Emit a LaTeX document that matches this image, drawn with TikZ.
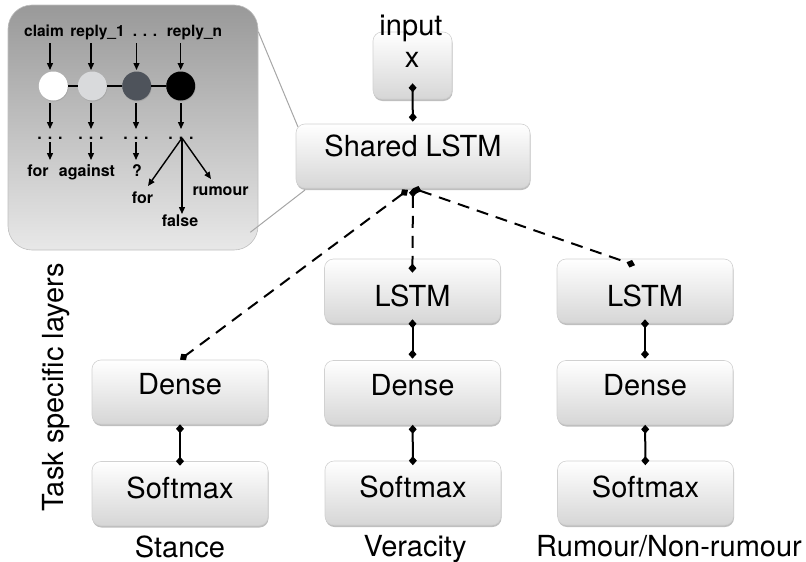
\documentclass[tikz,border=0pt]{standalone}
\usepackage{fontspec}
\setmainfont{TeX Gyre Heros}
\usetikzlibrary{arrows.meta,shadows,calc}
\definecolor{ballgray}{HTML}{D9DADC}
\definecolor{balldark}{HTML}{4E535B}
\tikzset{
  layer/.style={rounded corners=9pt, top color=white, bottom color=black!16, draw=black!18, line width=0.6pt,
     drop shadow={shadow xshift=0.5pt, shadow yshift=-2pt, opacity=0.25, fill=black},
     minimum width=176pt, minimum height=64pt, inner sep=0pt, font=\fontsize{29}{34}\selectfont},
  capup/.style={text height=21pt, text depth=#1},
  capdown/.style={text height=#1, text depth=0pt},
  lbl/.style={font=\fontsize{29}{34}\selectfont, inner sep=0pt, anchor=base},
  link/.style={line width=2pt, {Diamond[length=9pt,width=8pt]}-{Diamond[length=9pt,width=8pt]}},
  dlink/.style={link, dash pattern=on 12pt off 8pt},
  smalltext/.style={font=\fontsize{16}{20}\selectfont\bfseries, inner sep=0pt, anchor=base},
  toptext/.style={font=\fontsize{15.5}{20}\selectfont\bfseries, inner sep=0pt, anchor=base},
  sarrow/.style={line width=1.4pt, -{Triangle[length=7pt,width=6pt]}},
  ball/.style={circle, minimum size=29pt, inner sep=0pt, drop shadow={shadow xshift=0.5pt, shadow yshift=-1pt, opacity=0.3}},
  inset/.style={rounded corners=24pt, top color=black!40, bottom color=black!9, draw=black!25, line width=0.6pt},
  zoomline/.style={draw=black!35, line width=1pt},
}
\begin{document}
\begin{tikzpicture}[x=1pt,y=-1pt]
\useasboundingbox (0,0) rectangle (806,562);

% ---------- inset ----------
\node[inset, minimum width=250pt, minimum height=245pt] (ins) at (133,127.5) {};

\node[toptext] (tclaim) at (44,36) {claim};
\node[toptext] (treply1) at (97.5,36) {reply\_1};
\node[toptext] (tdots) at (145,36) {. . .};
\node[toptext] (treplyn) at (194.5,36) {reply\_n};

\foreach \i/\x in {1/50,2/91,3/136.5,4/180.7}{
  \coordinate (ta\i) at (\x,43);
  \coordinate (tb\i) at (\x,70);
  \draw[sarrow] (ta\i) -- (tb\i);
}

\node[ball, fill=white] (c1) at (53.3,86) {};
\node[ball, fill=ballgray] (c2) at (92.3,86) {};
\node[ball, fill=balldark] (c3) at (136.7,86) {};
\node[ball, fill=black] (c4) at (180.7,86) {};
\draw[line width=1.3pt] (c1) -- (c2);
\draw[line width=1.3pt] (c2) -- (c3);
\draw[line width=1.3pt] (c3) -- (c4);

\foreach \i/\x in {1/50,2/91,3/136,4/181}{
  \coordinate (ba\i) at (\x,103);
  \coordinate (bb\i) at (\x,129);
  \draw[sarrow] (ba\i) -- (bb\i);
  \node[smalltext] (dots\i) at (\x,139) {. . .};
}
\foreach \i/\x in {1/50,2/91,3/136}{
  \coordinate (sa\i) at (\x,142);
  \coordinate (sb\i) at (\x,160);
  \draw[sarrow] (sa\i) -- (sb\i);
}
\node[smalltext] (lfor) at (38,176) {for};
\node[smalltext] (lagainst) at (87,176) {against};
\node[smalltext] (lq) at (137,176) {?};

\coordinate (f0) at (182,138);
\coordinate (f1) at (148,186);
\coordinate (f2) at (182,214);
\coordinate (f3) at (211,179);
\draw[sarrow] (f0) -- (f1);
\draw[sarrow] (f0) -- (f2);
\draw[sarrow] (f0) -- (f3);
\node[smalltext] (lfor2) at (142.5,203) {for};
\node[smalltext] (lfalse) at (180,226) {false};
\node[smalltext] (lrumour) at (220.5,195) {rumour};

% ---------- zoom lines ----------
\coordinate (sharedcorner1) at (298,127);
\coordinate (sharedcorner2) at (305,190);
\draw[zoomline] ($(ins.north east)+(0,27)$) -- (sharedcorner1);
\draw[zoomline] ($(ins.south east)+(-8,-18)$) -- (sharedcorner2);

% ---------- main boxes ----------
\node[layer, minimum width=79pt, minimum height=67pt] (in) at (412.5,65.5) {};
\node[lbl] (tin) at (411,35) {input};
\node[lbl] (tx) at (412,67) {x};
\node[layer, minimum width=234pt, capup=20pt] (sh) at (413,156) {Shared LSTM};

\node[layer, capup=16pt] (d1) at (180,392) {Dense};
\node[layer, capup=12pt] (s1) at (180,493.5) {Softmax};
\node[layer, capdown=31pt] (l2) at (412.5,291) {LSTM};
\node[layer, capup=16pt] (d2) at (412.5,392.5) {Dense};
\node[layer, capup=12pt] (s2) at (413,493) {Softmax};
\node[layer, capdown=31pt] (l3) at (645,291) {LSTM};
\node[layer, capup=16pt] (d3) at (645,392.5) {Dense};
\node[layer, capup=12pt] (s3) at (645.5,493) {Softmax};

\node[lbl] (stance) at (180,557) {Stance};
\node[lbl] (veracity) at (415,556) {Veracity};
\node[lbl] (rumour) at (669,556) {Rumour/Non-rumour};
\node[lbl, rotate=90] (task) at (63,387.5) {Task specific layers};

% ---------- connectors ----------
\draw[link, shorten <=-16pt, shorten >=2pt] (in) -- (sh);
\draw[link, shorten <=-4pt, shorten >=1.5pt] (l2) -- (d2);
\draw[link, shorten <=-4pt, shorten >=1.5pt] (l3) -- (d3);
\draw[link, shorten >=-4.5pt] (d1) -- (s1);
\draw[link, shorten >=-4.5pt] (d2) -- (s2);
\draw[link, shorten >=-4.5pt] (d3) -- (s3);

\draw[dlink] ($(sh.south)+(-5,1.5)$) -- (d1.north);
\draw[dlink, shorten >=-14pt] (sh.south) -- (l2.north);
\draw[dlink] (sh.south) -- ($(l3.north)+(-10,6.5)$);
\end{tikzpicture}
\end{document}
